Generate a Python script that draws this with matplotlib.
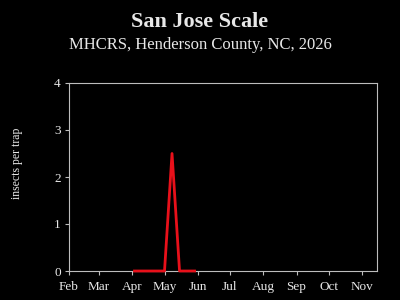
import pandas as pd
import matplotlib
matplotlib.use("Agg")
import matplotlib.pyplot as plt

# Dados de captura (semanal)
datas = ["2026-04-03", "2026-04-10", "2026-04-17", "2026-04-24", "2026-05-01",
         "2026-05-08", "2026-05-15", "2026-05-22", "2026-05-29"]
insetos = [0, 0, 0, 0, 0, 2.5, 0, 0, 0]
meses = ["Feb", "Mar", "Apr", "May", "Jun", "Jul", "Aug", "Sep", "Oct", "Nov"]

titulo = "San Jose Scale"
subtitulo = "MHCRS, Henderson County, NC, 2026"
ylabel = "insects per trap"

plt.rcParams["font.family"] = ["Liberation Serif", "DejaVu Serif"]

fg = "#e8e8e8"
eixo = "#bdbdbd"

fig = plt.figure(figsize=(4, 3), dpi=100, facecolor="black")
ax = fig.add_axes([69/400, 1 - 271/300, (377-69)/400, (271-83)/300])
ax.set_facecolor("black")

x = pd.to_datetime(datas)
ax.plot(x, insetos, color="#e8101a", linewidth=2, clip_on=False, zorder=3)

ax.set_xlim(pd.Timestamp("2026-02-01"), pd.Timestamp("2026-11-15"))
ax.set_ylim(0, 4)

ticks = pd.date_range("2026-02-01", periods=len(meses), freq="MS")
ax.set_xticks(ticks)
ax.set_xticklabels(meses)
ax.set_yticks([0, 1, 2, 3, 4])

for s in ax.spines.values():
    s.set_color(eixo)
    s.set_linewidth(0.8)
ax.tick_params(colors=eixo, labelcolor=fg, labelsize=9.5, length=3, width=0.8)
ax.tick_params(axis="x", pad=4)
ax.tick_params(axis="y", pad=3)

fig.text(0.5, 1 - 22/300, titulo, ha="center", va="center", color=fg,
         fontsize=16, fontweight="bold")
fig.text(0.5, 1 - 45/300, subtitulo, ha="center", va="center", color=fg,
         fontsize=12)
fig.text(17/400, 1 - 163/300, ylabel, ha="center", va="center", color=fg,
         fontsize=8.5, rotation=90)

fig.savefig("out.png", dpi=100, facecolor="black")
